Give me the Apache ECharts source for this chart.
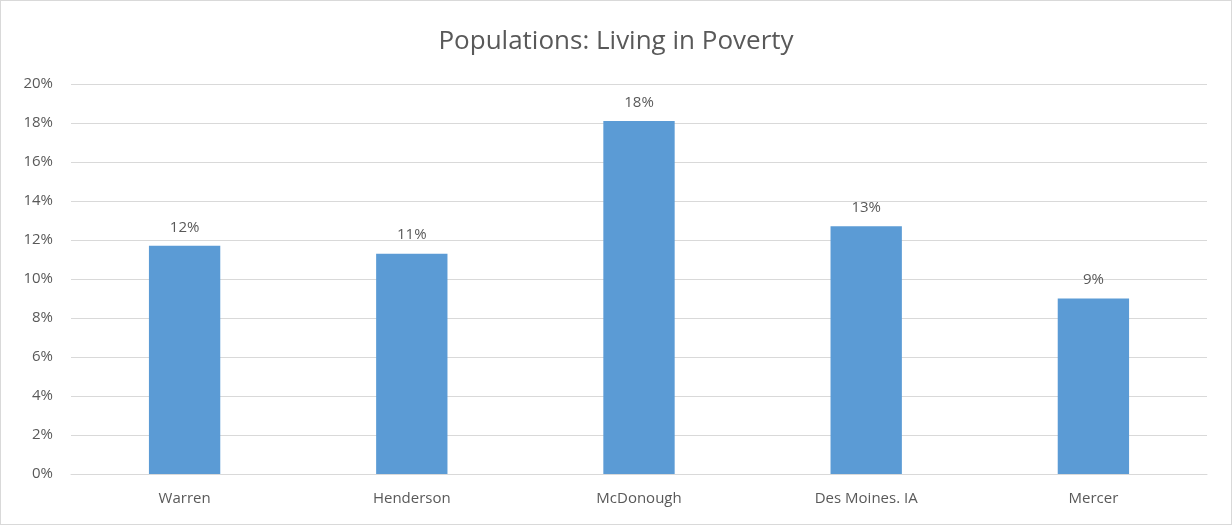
<!DOCTYPE html>
<html>
<head>
<meta charset="utf-8">
<script src="https://cdn.jsdelivr.net/npm/echarts@6/dist/echarts.min.js"></script>
<style>
  html, body { margin: 0; padding: 0; background: #fff; }
  #chart { width: 1232px; height: 525px; box-sizing: border-box; border: 1px solid #d9d9d9; }
</style>
</head>
<body>
<div id="chart"></div>
<script>
// Share of each population living in poverty
const categories = ['Warren', 'Henderson', 'McDonough', 'Des Moines. IA', 'Mercer'];
const povertyShare = [0.117, 0.113, 0.181, 0.127, 0.090];
const axisTicks = [0, 0.02, 0.04, 0.06, 0.08, 0.10, 0.12, 0.14, 0.16, 0.18, 0.20];

const FONT = '"Open Sans", "Liberation Sans", sans-serif';
const TEXT = '#595959';

const chart = echarts.init(document.getElementById('chart'), null, { renderer: 'canvas' });
chart.setOption({
  animation: false,
  title: {
    text: 'Populations: Living in Poverty',
    left: 'center',
    top: 23,
    textStyle: { fontFamily: FONT, fontSize: 26, fontWeight: 'normal', color: TEXT }
  },
  grid: { left: 70, right: 24, top: 83, bottom: 50 },
  xAxis: {
    type: 'category',
    data: categories,
    axisTick: { show: false },
    axisLine: { lineStyle: { color: '#d9d9d9', width: 1 } },
    axisLabel: { fontFamily: FONT, fontSize: 15, color: TEXT, margin: 17 }
  },
  yAxis: {
    type: 'value',
    min: axisTicks[0],
    max: axisTicks[axisTicks.length - 1],
    interval: 0.02,
    axisLine: { show: false },
    axisTick: { show: false },
    splitLine: { lineStyle: { color: '#d9d9d9', width: 1 } },
    axisLabel: {
      fontFamily: FONT, fontSize: 15, color: TEXT, margin: 18,
      formatter: v => Math.round(v * 100) + '%'
    }
  },
  series: [{
    type: 'bar',
    data: povertyShare,
    barWidth: '31.4%',
    itemStyle: { color: '#5b9bd5' },
    label: {
      show: true,
      position: 'top',
      distance: 11,
      fontFamily: FONT,
      fontSize: 15,
      color: TEXT,
      formatter: p => Math.round(p.value * 100) + '%'
    }
  }]
});
</script>
</body>
</html>
